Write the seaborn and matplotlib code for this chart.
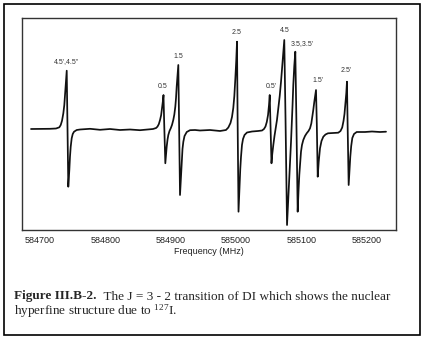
import numpy as np
import pandas as pd
import matplotlib
matplotlib.use("Agg")
import matplotlib.pyplot as plt
import seaborn as sns
from matplotlib.patches import Rectangle

# ---- data (frequency in MHz, signal in arbitrary units) ----
freq_mhz = [
    # baseline + line 4.5',4.5''
    584686.2, 584715.3, 584724.5, 584729.6, 584731.7, 584733.7, 584735.7, 584737.2,
    584738.7, 584739.8, 584740.9, 584741.8, 584743.3, 584744.9, 584745.9, 584747.0,
    584748.5, 584750.1, 584752.1, 584756.2, 584761.3, 584776.6, 584791.9, 584807.2,
    584822.5, 584837.8, 584853.1, 584865.4,
    # lines 0.5 and 1.5
    584873.0, 584877.8, 584879.9, 584881.9, 584883.9, 584885.5, 584887.0, 584888.1,
    584889.1, 584890.2, 584891.9, 584893.1, 584894.0, 584895.3, 584896.5, 584898.3,
    584900.2, 584902.1, 584904.1, 584905.7, 584907.2, 584908.3, 584909.3, 584910.6,
    584911.8, 584912.9, 584914.4, 584915.9, 584917.0, 584918.2, 584919.5, 584921.3,
    584924.7, 584929.7, 584937.4, 584945.0, 584960.3, 584975.7, 584984.8,
    # line 2.5
    584988.4, 584991.7, 584994.0, 584996.0, 584997.6, 584999.1, 585000.5, 585001.7,
    585002.6, 585004.0, 585005.5, 585006.7, 585007.8, 585009.3, 585010.9, 585013.2,
    585017.0, 585024.7, 585033.9,
    # lines 0.5', 4.5, 3.5/3.5', 1.5'
    585040.0, 585043.0, 585045.3, 585047.3, 585049.2, 585050.7, 585051.8, 585053.0,
    585054.5, 585055.7, 585057.3, 585059.1, 585061.0, 585062.9, 585064.9, 585067.1,
    585069.1, 585070.9, 585072.6, 585074.1, 585076.0, 585078.3, 585080.3, 585081.6,
    585082.9, 585084.4, 585085.5, 585086.7, 585087.9, 585089.4, 585091.0, 585092.5,
    585094.6, 585095.9, 585097.1, 585098.5, 585099.7, 585101.2, 585103.2, 585105.8,
    585108.4, 585111.2, 585113.5, 585115.5, 585117.0, 585118.5, 585120.1, 585121.4,
    585122.7, 585123.9, 585125.3, 585126.8, 585128.8, 585131.1, 585133.9, 585137.2,
    585141.0, 585148.7, 585156.8,
    # line 2.5'
    585160.2, 585162.8, 585164.8, 585166.3, 585167.8, 585169.1, 585170.1, 585171.2,
    585172.7, 585174.1, 585175.2, 585176.6, 585178.3, 585180.9, 585185.0, 585197.7,
    585208.4, 585220.7, 585229.9,
]
signal = [
    0.00, 0.02, 0.05, 0.17, 0.40, 0.83, 1.57, 2.40,
    3.73, 4.73, 5.83, 1.23, -5.77, -4.10, -2.77, -1.77,
    -0.93, -0.50, -0.27, -0.10, -0.05, 0.02, -0.08, 0.00,
    -0.10, -0.05, -0.12, -0.05,
    0.00, 0.10, 0.24, 0.48, 0.92, 1.39, 2.18, 2.75,
    3.40, 0.50, -3.43, -2.50, -1.77, -1.05, -0.60, -0.20,
    0.07, 0.40, 0.90, 1.45, 2.23, 3.10, 4.23, 5.30,
    6.40, 1.00, -6.60, -4.70, -3.10, -2.00, -1.27, -0.70,
    -0.30, -0.12, -0.10, -0.15, -0.10, -0.20, -0.10,
    0.15, 0.60, 1.20, 2.10, 3.30, 5.00, 6.80, 8.73,
    1.00, -8.27, -5.90, -4.00, -2.80, -1.60, -1.00, -0.60,
    -0.35, -0.25, -0.20,
    -0.15, 0.00, 0.25, 0.70, 1.40, 2.40, 3.40, 0.30,
    -3.43, -2.50, -1.60, -0.70, 0.07, 0.90, 2.07, 3.30,
    4.73, 6.20, 7.60, 8.90, 1.00, -9.60, -6.93, -5.20,
    -3.60, -1.30, 0.40, 2.30, 4.40, 6.30, 7.73, 1.50,
    -8.27, -6.20, -4.60, -3.30, -2.27, -1.60, -1.10, -0.70,
    -0.43, -0.20, 0.07, 0.55, 1.23, 1.90, 2.73, 3.30,
    3.90, 0.50, -4.77, -3.30, -1.93, -1.20, -0.77, -0.55,
    -0.43, -0.40, -0.37,
    -0.20, 0.15, 0.80, 1.50, 2.60, 3.60, 4.73, 0.00,
    -5.60, -4.00, -2.77, -1.70, -0.90, -0.50, -0.30, -0.30,
    -0.25, -0.30, -0.27,
]

peak_labels = ["4.5',4.5''", "0.5", "1.5", "2.5", "0.5'", "4.5", "3.5,3.5'", "1.5'", "2.5'"]
label_freq = [584740.9, 584888.4, 584911.3, 585001.7, 585054.8, 585075.2, 585100.8, 585125.7, 585168.6]
label_sig = [6.73, 4.30, 7.23, 9.63, 4.30, 9.83, 8.57, 4.90, 5.80]

xticks = [584700, 584800, 584900, 585000, 585100, 585200]
xtick_labels = ["584700", "584800", "584900", "585000", "585100", "585200"]
x_label = "Frequency (MHz)"
caption_bold = "Figure III.B-2."
caption_rest = "  The J = 3 - 2 transition of DI which shows the nuclear"
caption_line2 = r"hyperfine structure due to $^{\mathrm{127}}$I."

# ---- style ----
sns.set_style("white")
plt.rcParams["font.family"] = ["Liberation Sans", "DejaVu Sans"]
plt.rcParams["mathtext.fontset"] = "custom"
plt.rcParams["mathtext.rm"] = "Liberation Serif"
plt.rcParams["mathtext.it"] = "Liberation Serif:italic"
plt.rcParams["mathtext.bf"] = "Liberation Serif:bold"

W, H = 423, 338
fig = plt.figure(figsize=(W / 100, H / 100), dpi=100, facecolor="white")

# outer border
fig.patches.append(Rectangle((3.5 / W, 3.5 / H), (W - 7) / W, (H - 7) / H,
                             transform=fig.transFigure, fill=False,
                             edgecolor="black", linewidth=1.2))

left, right, top, bottom = 22, 396, 18, 230
ax = fig.add_axes([left / W, (H - bottom) / H, (right - left) / W, (bottom - top) / H])

df = pd.DataFrame({"freq": freq_mhz, "signal": signal})
sns.lineplot(data=df, x="freq", y="signal", sort=False, estimator=None,
             color="#111111", linewidth=1.25, ax=ax)

for lab, fx, fy in zip(peak_labels, label_freq, label_sig):
    ax.text(fx, fy, lab, ha="center", va="center", fontsize=5, color="#333333")

ax.set_xlim(584672.4, 585245.2)
ax.set_ylim(-10.1, 11.1)
ax.set_xticks(xticks)
ax.set_xticklabels(xtick_labels, fontsize=6.5, color="#222222")
ax.set_yticks([])
ax.tick_params(axis="x", direction="in", length=3, width=0.8, color="#333333", pad=4)
ax.set_xlabel(x_label, fontsize=6.5, color="#222222", labelpad=2)
ax.set_ylabel("")
for sp in ax.spines.values():
    sp.set_visible(True)
    sp.set_color("#333333")
    sp.set_linewidth(1.0)

# caption (baseline-aligned)
fig.canvas.draw()
renderer = fig.canvas.get_renderer()
cap_size = 9.5
y1 = 1 - 299.5 / H
y2 = 1 - 315 / H
t1 = fig.text(14 / W, y1, caption_bold, fontsize=cap_size, fontweight="bold",
              family="Liberation Serif", va="baseline", ha="left")
bb = t1.get_window_extent(renderer=renderer)
x2 = bb.x1 / W
fig.text(x2, y1, caption_rest, fontsize=cap_size, family="Liberation Serif",
         va="baseline", ha="left")
fig.text(14 / W, y2, caption_line2, fontsize=cap_size, family="Liberation Serif",
         va="baseline", ha="left")

fig.savefig("out.png", dpi=100, facecolor="white")
